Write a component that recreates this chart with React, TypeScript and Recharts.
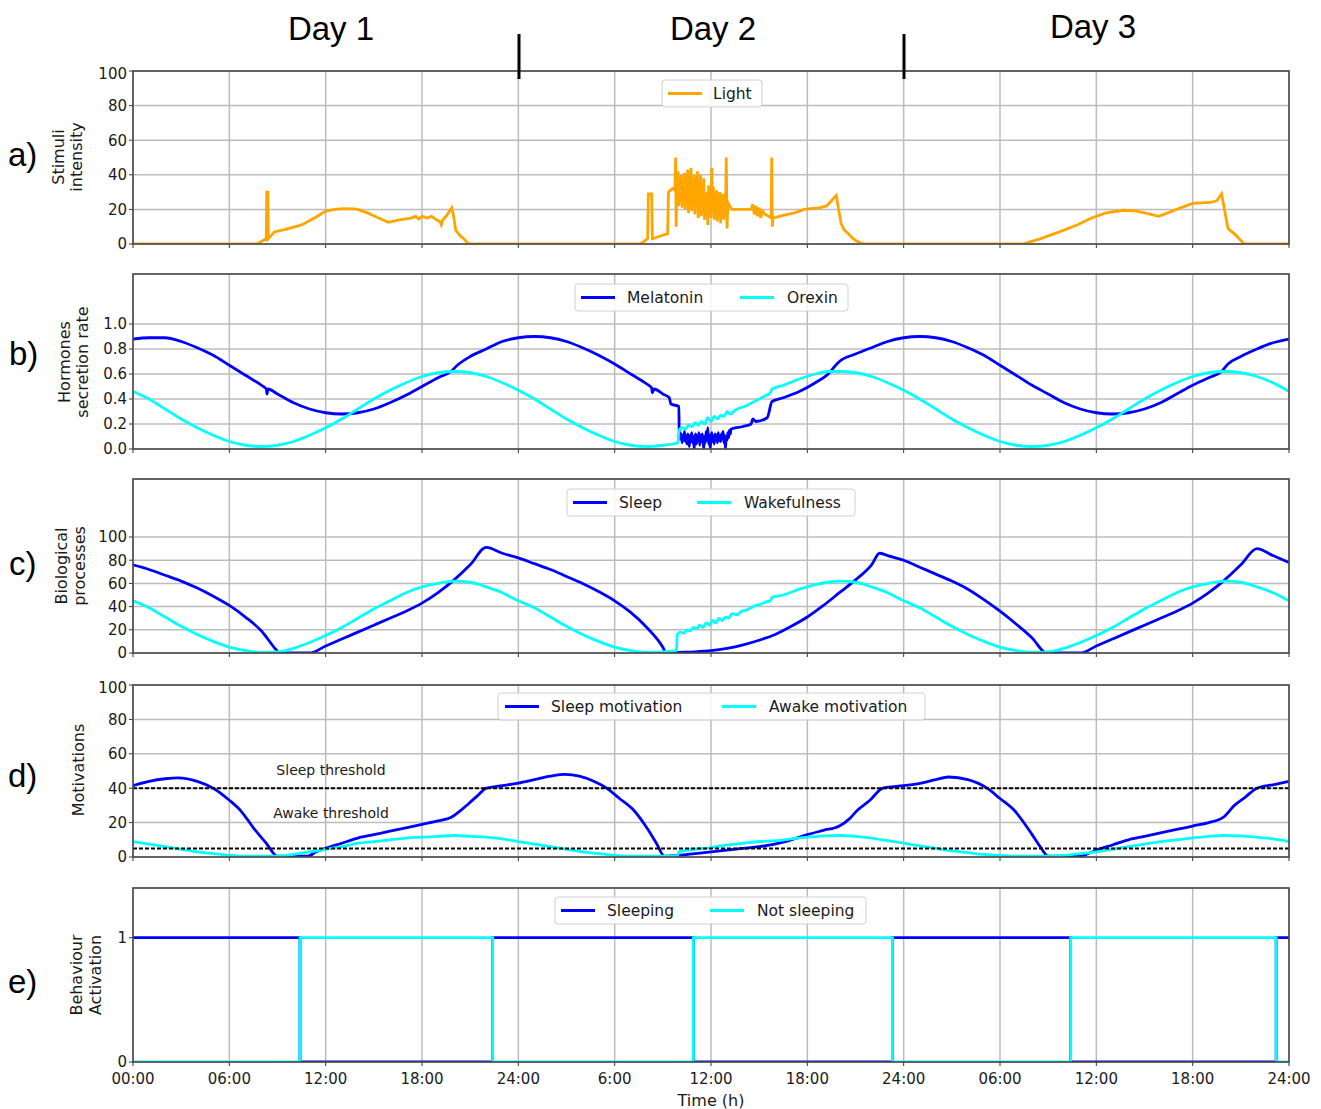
import React from "react";
import { LineChart, Line, XAxis, YAxis, CartesianGrid, ReferenceLine } from "recharts";

// time in hours (0..72), three simulated days
const hourTicks = [0, 6, 12, 18, 24, 30, 36, 42, 48, 54, 60, 66, 72];
const hourLabels = ["00:00", "06:00", "12:00", "18:00", "24:00", "6:00", "12:00", "18:00", "24:00", "06:00", "12:00", "18:00", "24:00"];

const pctTicks = [0, 20, 40, 60, 80, 100];
const rateTicks = [0, 0.2, 0.4, 0.6, 0.8, 1.0];
const binTicks = [0, 1];

// a) light stimulus
const lightPts: [number, number][] = [
  [0, 0], [7.7, 0], [8.1, 2], [8.3, 3], [8.33, 30], [8.4, 30], [8.43, 3], [8.8, 7], [9.5, 8.5], [10.5, 11],
  [11.3, 15], [12, 19], [12.6, 20], [13.1, 20.5], [13.7, 20.3], [14, 20], [14.6, 18], [15.3, 15], [15.9, 12.5],
  [16.6, 14], [17.3, 15], [17.6, 16], [17.8, 14.5], [18, 16], [18.3, 15], [18.6, 16], [18.9, 14], [19.1, 13],
  [19.2, 11], [19.3, 14], [19.5, 16], [19.85, 21], [19.95, 17], [20.1, 8], [20.35, 5], [20.6, 3], [20.9, 0],
  [31.6, 0], [31.9, 2], [32.05, 3], [32.1, 29], [32.3, 29], [32.35, 3], [32.8, 4.5], [33.3, 6], [33.35, 30],
  [33.6, 32], [33.75, 31], [33.8, 50], [33.83, 10], [33.87, 33],
  [33.95, 42], [34.0, 22], [34.05, 38], [34.1, 25], [34.15, 40], [34.2, 21], [34.25, 36], [34.3, 27], [34.35, 41],
  [34.4, 20], [34.45, 39], [34.5, 24], [34.55, 43], [34.6, 18], [34.65, 37], [34.7, 26], [34.75, 44], [34.8, 19],
  [34.85, 35], [34.9, 23], [34.95, 40], [35.0, 17], [35.05, 38], [35.1, 22], [35.15, 42], [35.2, 15], [35.25, 36],
  [35.3, 24], [35.35, 40], [35.4, 16], [35.45, 33], [35.5, 21], [35.55, 38], [35.6, 14], [35.65, 29], [35.7, 18],
  [35.75, 30], [35.8, 11], [35.85, 34], [35.9, 20], [35.95, 32], [36.0, 15], [36.05, 44], [36.1, 19], [36.15, 33],
  [36.2, 14], [36.25, 29], [36.3, 18], [36.35, 31], [36.4, 13], [36.45, 28], [36.5, 17], [36.55, 30], [36.6, 12],
  [36.65, 27], [36.7, 16], [36.75, 29], [36.8, 14], [36.85, 26], [36.9, 18],
  [36.95, 50], [37.0, 9], [37.05, 24], [37.3, 20], [38.5, 20], [38.6, 23], [38.7, 17], [38.8, 22], [38.9, 16],
  [39.0, 21], [39.1, 15], [39.2, 19], [39.4, 17], [39.6, 16], [39.75, 15], [39.78, 50], [39.82, 10], [39.86, 15],
  [40.5, 16.5], [41.2, 18], [41.8, 20], [42.8, 21], [43.2, 22], [43.5, 25], [43.8, 28], [44.1, 12], [44.3, 8],
  [44.5, 6.5], [44.8, 3.5], [45.1, 1.5], [45.5, 0],
  [55.4, 0], [56.5, 3], [57.7, 7], [58.8, 11], [59.7, 15], [60.6, 18], [61.7, 19.5], [62.5, 19], [63.2, 17.5],
  [63.9, 16], [65, 20], [66, 23.5], [67.1, 24], [67.5, 25], [67.8, 29], [68.2, 9], [68.7, 5], [69.2, 0], [72, 0],
];

// b) hormones
const melatoninPts: [number, number][] = [
  [0, 0.88], [1, 0.89], [2, 0.89], [3, 0.86], [4, 0.81], [5, 0.75], [6, 0.67], [7, 0.59], [8, 0.51], [8.3, 0.48],
  [8.35, 0.44], [8.4, 0.48], [9, 0.44], [10, 0.37], [11, 0.32], [12, 0.29], [13, 0.28], [14, 0.29], [15, 0.32],
  [16, 0.37], [17, 0.43], [18, 0.5], [19, 0.57], [19.8, 0.62], [20.2, 0.67], [21, 0.74], [22, 0.8], [23, 0.86],
  [24, 0.89], [25, 0.9], [26, 0.89], [27, 0.86], [28, 0.81], [29, 0.75], [30, 0.68], [31, 0.6], [32, 0.52],
  [32.3, 0.49], [32.35, 0.45], [32.45, 0.48], [33, 0.44], [33.4, 0.41], [33.5, 0.36], [34.0, 0.34], [34.02, 0.13],
  [34.05, 0.13], [34.1, 0.08], [34.15, 0.12], [34.2, 0.05], [34.25, 0.11], [34.3, 0.07], [34.35, 0.14], [34.4, 0.06],
  [34.45, 0.1], [34.5, 0.04], [34.55, 0.12], [34.6, 0.08], [34.65, 0.02], [34.7, 0.11], [34.75, 0.06], [34.8, 0.13],
  [34.85, 0.05], [34.9, 0.1], [34.95, 0.0], [35.0, 0.09], [35.05, 0.12], [35.1, 0.04], [35.15, 0.1], [35.2, 0.07],
  [35.25, 0.13], [35.3, 0.03], [35.35, 0.11], [35.4, 0.06], [35.45, 0.12], [35.5, 0.08], [35.55, 0.0], [35.6, 0.1],
  [35.65, 0.05], [35.7, 0.14], [35.75, 0.07], [35.8, 0.17], [35.85, 0.04], [35.9, 0.11], [35.95, 0.0], [36.0, 0.09],
  [36.05, 0.13], [36.1, 0.06], [36.15, 0.1], [36.2, 0.04], [36.25, 0.12], [36.3, 0.08], [36.35, 0.11], [36.4, 0.05],
  [36.45, 0.13], [36.5, 0.07], [36.55, 0.1], [36.6, 0.06], [36.65, 0.12], [36.7, 0.08], [36.75, 0.14], [36.8, 0.05],
  [36.85, 0.11], [36.9, 0.0], [36.95, 0.1], [37.0, 0.07], [37.05, 0.13], [37.1, 0.09], [37.15, 0.15], [37.2, 0.12],
  [37.25, 0.16], [38, 0.18], [38.5, 0.2], [38.6, 0.24], [38.8, 0.22], [39.5, 0.25], [39.8, 0.38], [40.5, 0.41],
  [41.5, 0.46], [42.5, 0.53], [43.3, 0.6], [43.7, 0.66], [44, 0.7], [45, 0.76], [46, 0.81], [47, 0.86], [48, 0.89],
  [49, 0.9], [50, 0.89], [51, 0.86], [52, 0.81], [53, 0.75], [54, 0.67], [55, 0.59], [56, 0.51], [57, 0.44],
  [58, 0.37], [59, 0.32], [60, 0.29], [61, 0.28], [62, 0.29], [63, 0.32], [64, 0.37], [65, 0.44], [66, 0.51],
  [67, 0.57], [67.8, 0.62], [68.2, 0.68], [69, 0.74], [70, 0.8], [71, 0.85], [72, 0.88],
];

const orexinPts: [number, number][] = [
  [0, 0.46], [1, 0.4], [2, 0.32], [3, 0.24], [4, 0.17], [5, 0.11], [6, 0.06], [7, 0.03], [8, 0.02], [9, 0.03],
  [10, 0.06], [11, 0.11], [12, 0.17], [13, 0.24], [14, 0.32], [15, 0.4], [16, 0.47], [17, 0.53], [18, 0.58],
  [19, 0.61], [20, 0.62], [21, 0.61], [22, 0.58], [23, 0.53], [24, 0.47], [25, 0.4], [26, 0.32], [27, 0.24],
  [28, 0.17], [29, 0.11], [30, 0.06], [31, 0.03], [32, 0.02], [33, 0.03], [33.95, 0.05], [34.0, 0.15],
  [34.2, 0.17], [34.4, 0.16], [34.6, 0.19], [34.8, 0.18], [35.0, 0.21], [35.2, 0.19], [35.4, 0.22], [35.6, 0.2],
  [35.8, 0.25], [36.0, 0.22], [36.2, 0.26], [36.4, 0.24], [36.6, 0.27], [36.8, 0.26], [37.0, 0.3], [37.2, 0.28],
  [37.5, 0.31], [37.8, 0.33], [38.1, 0.34], [38.4, 0.36], [38.7, 0.38], [39.0, 0.4], [39.3, 0.42], [39.6, 0.44],
  [39.7, 0.45], [39.8, 0.48], [40.5, 0.51], [41.5, 0.56], [42.5, 0.6], [43.3, 0.62], [44, 0.62], [45, 0.61],
  [46, 0.58], [47, 0.53], [48, 0.47], [49, 0.4], [50, 0.32], [51, 0.24], [52, 0.17], [53, 0.11], [54, 0.06],
  [55, 0.03], [56, 0.02], [57, 0.03], [58, 0.06], [59, 0.11], [60, 0.17], [61, 0.24], [62, 0.32], [63, 0.4],
  [64, 0.47], [65, 0.53], [66, 0.58], [67, 0.61], [68, 0.62], [69, 0.61], [70, 0.58], [71, 0.53], [72, 0.46],
];

// c) biological processes
const sleepProcPts: [number, number][] = [
  [0, 76], [1, 72], [2, 67], [3, 62], [4, 56], [5, 49], [6, 41], [7, 31], [8, 19], [8.9, 3], [9.1, 0], [11, 0],
  [12, 6], [13, 12], [14, 18], [15, 24], [16, 30], [17, 36], [18, 43], [19, 52], [20, 63], [21, 76], [22, 91],
  [23, 86], [24, 82], [25, 77], [26, 72], [27, 66], [28, 60], [29, 53], [30, 45], [31, 35], [32, 22], [33, 5],
  [33.2, 0], [34, 0.5], [35, 1], [36, 2], [37, 4], [38, 7], [39, 11], [40, 16], [41, 23], [42, 31], [43, 41],
  [44, 52], [45, 63], [46, 76], [46.5, 86], [47, 84], [48, 80], [49, 74], [50, 68], [51, 62], [52, 55], [53, 46],
  [54, 36], [55, 25], [56, 13], [56.9, 0], [59, 0], [60, 6], [61, 12], [62, 18], [63, 24], [64, 30], [65, 36],
  [66, 43], [67, 52], [68, 63], [69, 76], [70, 90], [71, 84], [72, 78],
];

const wakeProcPts: [number, number][] = [
  [0, 45], [1, 39], [2, 31], [3, 23], [4, 16], [5, 10], [6, 5], [7, 2], [8, 0.5], [9, 1], [10, 4], [11, 9],
  [12, 15], [13, 22], [14, 30], [15, 38], [16, 45], [17, 52], [18, 57], [19, 60], [20, 62], [21, 61], [22, 57],
  [23, 52], [24, 45], [25, 39], [26, 31], [27, 23], [28, 16], [29, 10], [30, 5], [31, 2], [32, 0.5], [33, 1],
  [33.85, 2], [33.9, 16], [34.1, 18], [34.3, 17], [34.5, 20], [34.7, 19], [34.9, 22], [35.1, 21], [35.3, 24],
  [35.5, 22], [35.7, 26], [35.9, 24], [36.1, 28], [36.3, 26], [36.5, 30], [36.7, 28], [36.9, 31], [37.1, 30],
  [37.3, 34], [37.6, 33], [37.9, 36], [38.2, 37], [38.5, 39], [38.8, 41], [39.1, 42], [39.4, 44], [39.7, 45],
  [39.8, 48], [40.5, 50], [41.5, 55], [42.5, 59], [43.3, 61], [44, 62], [45, 61], [46, 57], [47, 52], [48, 45],
  [49, 39], [50, 31], [51, 23], [52, 16], [53, 10], [54, 5], [55, 2], [56, 0.5], [57, 1], [58, 4], [59, 9],
  [60, 15], [61, 22], [62, 30], [63, 38], [64, 45], [65, 52], [66, 57], [67, 60], [68, 62], [69, 61], [70, 57],
  [71, 52], [72, 45],
];

// d) motivations
const sleepMotPts: [number, number][] = [
  [0, 41.5], [1, 44], [2, 45.5], [2.8, 46], [4, 44], [5, 40], [6, 33], [6.7, 27], [7.5, 17], [8.3, 8], [9, 0.5],
  [10.9, 0.5], [11.4, 3], [12, 5], [13, 8], [14, 11], [15, 13], [16, 15], [17, 17], [18, 19], [19, 21],
  [19.8, 23], [20.4, 27], [20.9, 31], [21.5, 36], [22, 40], [23, 41.5], [24, 43], [25, 45], [26, 47],
  [26.9, 48], [27.8, 47], [28.7, 44], [29.5, 40], [30.3, 34], [31.2, 27], [32, 17], [32.6, 8], [33.1, 0.5],
  [34, 1], [35, 2], [36, 3], [37, 4], [38, 5], [39, 6], [39.7, 7], [41, 10], [42, 13], [43, 15.5], [44, 18],
  [44.6, 22], [45.1, 27], [45.9, 33], [46.7, 40], [48, 41.5], [49.1, 43], [50, 45], [50.8, 46.5], [52, 45],
  [53.2, 40], [54, 34], [54.9, 27], [56, 13], [56.5, 6], [57, 0.5], [59, 0.5], [59.5, 2], [60, 4], [61, 7],
  [62, 10], [63, 12], [64, 14], [65, 16], [66, 18], [67, 20], [67.9, 23], [68.6, 30], [69.3, 35], [70, 40],
  [71, 42], [72, 44],
];

const awakeMotPts: [number, number][] = [
  [0, 9], [1, 7.5], [2, 6], [3, 4.5], [4, 3], [5, 2], [6, 1], [7, 0.5], [9, 0.5], [10, 1.5], [11, 3], [12, 4.5],
  [13, 6], [14, 8], [15, 9], [16, 10], [17, 11], [18, 11.5], [19, 12], [20, 12.5], [21, 12], [22, 11.5],
  [23, 10.5], [24, 9], [25, 7.5], [26, 6], [27, 4.5], [28, 3], [29, 2], [30, 1], [31, 0.5], [33, 0.5],
  [33.9, 0.8], [34.0, 3], [35, 4.5], [36, 5.5], [37, 7], [38, 8], [39, 9], [40, 9.5], [41, 10.5], [42, 11.5],
  [43, 12.3], [44, 12.5], [45, 12], [46, 11], [47, 9.5], [48, 8], [49, 6.5], [50, 5], [51, 3.5], [52, 2.5],
  [53, 1.5], [54, 1], [55, 0.5], [57, 0.5], [58, 1], [59, 2], [60, 3], [61, 4.5], [62, 6], [63, 7.5], [64, 9],
  [65, 10], [66, 11], [67, 12], [68, 12.5], [69, 12.3], [70, 11.5], [71, 10.5], [72, 9],
];

const sleepThreshold = 40;
const awakeThreshold = 5;

// e) behaviour activation (step changes)
const sleepingPts: [number, number][] = [[0, 1], [10.4, 0], [22.4, 1], [34.9, 0], [47.3, 1], [58.4, 0], [71.2, 1], [72, 1]];
const notSleepingPts: [number, number][] = [[0, 0], [10.4, 1], [22.4, 0], [34.9, 1], [47.3, 0], [58.4, 1], [71.2, 0], [72, 0]];

const rows = (pts: [number, number][]) => pts.map(([t, v]) => ({ t, v }));

const BLUE = "#0000ff";
const CYAN = "#00ffff";
const ORANGE = "#ffa500";
const FONT = "'DejaVu Sans', sans-serif";
const PLOT_LEFT = 133;
const PLOT_W = 1156;

function Panel({ top, plotH, domain, yTicks, yFmt, showX, children }: any) {
  const mt = 6;
  const xh = showX ? 36 : 10;
  return (
    <div style={{ position: "absolute", left: 0, top: top - mt }}>
      <LineChart width={1321} height={mt + plotH + xh} margin={{ top: mt, right: 32, bottom: 0, left: 0 }}>
        <CartesianGrid stroke="#bcbcbc" strokeWidth={1.5} />
        <XAxis
          dataKey="t"
          type="number"
          domain={[0, 72]}
          ticks={hourTicks}
          allowDataOverflow
          height={xh}
          axisLine={false}
          tickSize={4}
          tickMargin={7}
          tickLine={{ stroke: "#333" }}
          tick={{ fontSize: 15, fill: "#1a1a1a" }}
          tickFormatter={(v: number) => (showX ? hourLabels[hourTicks.indexOf(v)] : "")}
        />
        <YAxis
          type="number"
          domain={domain}
          ticks={yTicks}
          allowDataOverflow
          width={PLOT_LEFT}
          axisLine={false}
          tickSize={4}
          tickMargin={2}
          tickLine={{ stroke: "#333" }}
          tick={{ fontSize: 15, fill: "#1a1a1a" }}
          tickFormatter={yFmt}
        />
        {children}
      </LineChart>
    </div>
  );
}

function series(pts: [number, number][], color: string, type: any = "monotone") {
  return (
    <Line
      data={rows(pts)}
      dataKey="v"
      type={type}
      stroke={color}
      strokeWidth={2.8}
      dot={false}
      activeDot={false}
      isAnimationActive={false}
    />
  );
}

const panels = [
  { top: 71, h: 173 },
  { top: 274, h: 175 },
  { top: 479, h: 174 },
  { top: 685, h: 172 },
  { top: 888, h: 174 },
];

function LegendBox({ x, y, w, items }: any) {
  const h = 27;
  return (
    <g>
      <rect x={x} y={y} width={w} height={h} rx={3} fill="#fff" fillOpacity={0.85} stroke="#d0d0d0" />
      {items.map((it: any) => (
        <g key={it.label}>
          <line x1={it.sx} x2={it.sx + 34} y1={y + h / 2} y2={y + h / 2} stroke={it.color} strokeWidth={2.8} />
          <text x={it.tx} y={y + h / 2} dominantBaseline="central" fontSize={15.5} fill="#1a1a1a">
            {it.label}
          </text>
        </g>
      ))}
    </g>
  );
}

function YLabel({ lines, xs, cy }: { lines: string[]; xs: number[]; cy: number }) {
  return (
    <g>
      {lines.map((s, i) => (
        <text
          key={s}
          x={xs[i]}
          y={cy}
          transform={`rotate(-90 ${xs[i]} ${cy})`}
          textAnchor="middle"
          dominantBaseline="central"
          fontSize={16}
          fill="#1a1a1a"
        >
          {s}
        </text>
      ))}
    </g>
  );
}

export default function App() {
  const one = (v: number) => v.toFixed(1);
  return (
    <div style={{ position: "absolute", left: 0, top: 0, width: 1321, height: 1109, background: "#fff", fontFamily: FONT }}>
      <Panel top={71} plotH={173} domain={[0, 100]} yTicks={pctTicks}>
        {series(lightPts, ORANGE, "linear")}
      </Panel>
      <Panel top={274} plotH={175} domain={[0, 1.4]} yTicks={rateTicks} yFmt={one}>
        {series(melatoninPts, BLUE)}
        {series(orexinPts, CYAN)}
      </Panel>
      <Panel top={479} plotH={174} domain={[0, 150]} yTicks={pctTicks}>
        {series(sleepProcPts, BLUE)}
        {series(wakeProcPts, CYAN)}
      </Panel>
      <Panel top={685} plotH={172} domain={[0, 100]} yTicks={pctTicks}>
        {series(sleepMotPts, BLUE)}
        {series(awakeMotPts, CYAN)}
        <ReferenceLine y={sleepThreshold} stroke="#000" strokeWidth={2} strokeDasharray="4 2" />
        <ReferenceLine y={awakeThreshold} stroke="#000" strokeWidth={2} strokeDasharray="4 2" />
      </Panel>
      <Panel top={888} plotH={174} domain={[0, 1.4]} yTicks={binTicks} showX>
        {series(sleepingPts, BLUE, "stepAfter")}
        {series(notSleepingPts, CYAN, "stepAfter")}
      </Panel>

      <svg width={1321} height={1109} style={{ position: "absolute", left: 0, top: 0, pointerEvents: "none", fontFamily: FONT }}>
        {panels.map((p) => (
          <rect key={p.top} x={PLOT_LEFT} y={p.top} width={PLOT_W} height={p.h} fill="none" stroke="#4a4a4a" strokeWidth={1.6} />
        ))}

        <g fontFamily="'Liberation Sans', Arial, sans-serif" fontSize={33} fill="#000">
          <text x={331} y={40} textAnchor="middle">Day 1</text>
          <text x={713} y={40} textAnchor="middle">Day 2</text>
          <text x={1093} y={38} textAnchor="middle">Day 3</text>
          <text x={8} y={166}>a)</text>
          <text x={9} y={365}>b)</text>
          <text x={9} y={575}>c)</text>
          <text x={8} y={787}>d)</text>
          <text x={8} y={993}>e)</text>
        </g>
        <line x1={519} x2={519} y1={34} y2={79} stroke="#000" strokeWidth={3} />
        <line x1={904} x2={904} y1={34} y2={79} stroke="#000" strokeWidth={3} />

        <YLabel lines={["Stimuli", "intensity"]} xs={[58, 76]} cy={157} />
        <YLabel lines={["Hormones", "secretion rate"]} xs={[64, 82]} cy={362} />
        <YLabel lines={["Biological", "processes"]} xs={[61, 79]} cy={566} />
        <YLabel lines={["Motivations"]} xs={[78]} cy={770} />
        <YLabel lines={["Behaviour", "Activation"]} xs={[76, 95]} cy={975} />

        <text x={331} y={775} textAnchor="middle" fontSize={14} fill="#1a1a1a">Sleep threshold</text>
        <text x={331} y={818} textAnchor="middle" fontSize={14} fill="#1a1a1a">Awake threshold</text>

        <LegendBox x={662} y={80} w={100} items={[{ label: "Light", color: ORANGE, sx: 668, tx: 713 }]} />
        <LegendBox
          x={575}
          y={284}
          w={273}
          items={[
            { label: "Melatonin", color: BLUE, sx: 581, tx: 627 },
            { label: "Orexin", color: CYAN, sx: 740, tx: 787 },
          ]}
        />
        <LegendBox
          x={567}
          y={489}
          w={288}
          items={[
            { label: "Sleep", color: BLUE, sx: 573, tx: 619 },
            { label: "Wakefulness", color: CYAN, sx: 697, tx: 744 },
          ]}
        />
        <LegendBox
          x={498}
          y={693}
          w={427}
          items={[
            { label: "Sleep motivation", color: BLUE, sx: 505, tx: 551 },
            { label: "Awake motivation", color: CYAN, sx: 722, tx: 769 },
          ]}
        />
        <LegendBox
          x={555}
          y={897}
          w={311}
          items={[
            { label: "Sleeping", color: BLUE, sx: 561, tx: 607 },
            { label: "Not sleeping", color: CYAN, sx: 710, tx: 757 },
          ]}
        />

        <text x={711} y={1106} textAnchor="middle" fontSize={16} fill="#1a1a1a">Time (h)</text>
      </svg>
    </div>
  );
}
